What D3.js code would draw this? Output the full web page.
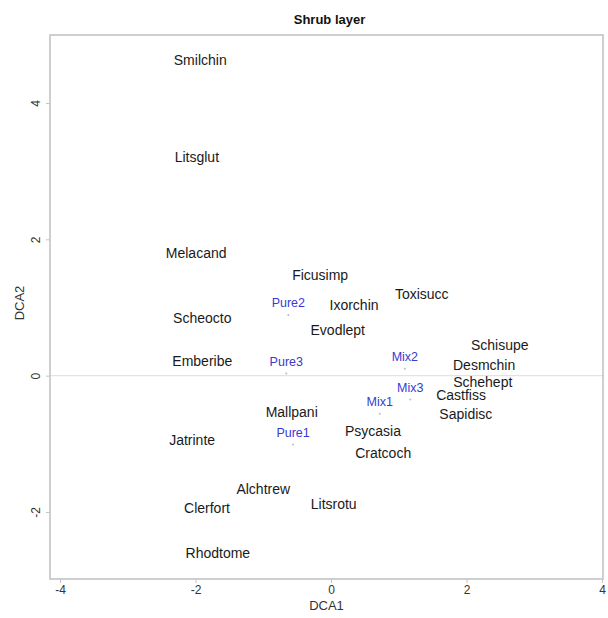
<!DOCTYPE html>
<html>
<head>
<meta charset="utf-8">
<script src="https://cdn.jsdelivr.net/npm/d3@7"></script>
<style>
  body { margin: 0; background: #fff; }
  text { font-family: "Liberation Sans", Arial, sans-serif; }
</style>
</head>
<body>
<script>
// species scores
const species = ["Smilchin","Litsglut","Melacand","Ficusimp","Toxisucc","Ixorchin","Scheocto","Evodlept",
  "Emberibe","Schisupe","Desmchin","Schehept","Castfiss","Sapidisc","Psycasia","Cratcoch",
  "Mallpani","Jatrinte","Alchtrew","Clerfort","Litsrotu","Rhodtome"];
const spX = [-1.93,-1.98,-1.99,-0.16,1.34,0.34,-1.90,0.10,-1.90,2.49,2.26,2.24,1.92,1.99,0.62,0.77,-0.58,-2.05,-1.00,-1.83,0.04,-1.67];
const spY = [4.63,3.21,1.80,1.48,1.20,1.03,0.85,0.67,0.22,0.45,0.16,-0.09,-0.29,-0.57,-0.82,-1.13,-0.54,-0.94,-1.67,-1.94,-1.88,-2.60];

// site scores
const sites = ["Pure1","Pure2","Pure3","Mix1","Mix2","Mix3"];
const siteX = [-0.56,-0.63,-0.66,0.72,1.09,1.17];
const siteY = [-1.01,0.89,0.03,-0.56,0.10,-0.35];

const xTicks = [-4,-2,0,2,4];
const yTicks = [-2,0,2,4];

const width = 608, height = 618;
const box = {left: 50, right: 603, top: 35, bottom: 579};

const svg = d3.select("body").append("svg")
  .attr("width", width)
  .attr("height", height);

const xScale = d3.scaleLinear().domain([-4, 4]).range([60, 602]);
const yScale = d3.scaleLinear().domain([-2, 4]).range([512, 103]);

// zero line
svg.append("line")
  .attr("x1", box.left).attr("x2", box.right)
  .attr("y1", yScale(0)).attr("y2", yScale(0))
  .attr("stroke", "#e2e2e2").attr("stroke-width", 1.2);

// frame
svg.append("rect")
  .attr("x", box.left).attr("y", box.top)
  .attr("width", box.right - box.left).attr("height", box.bottom - box.top)
  .attr("fill", "none").attr("stroke", "#c4c4c4").attr("stroke-width", 1.6);

// axes
const xAxis = d3.axisBottom(xScale).tickValues(xTicks).tickSize(4).tickPadding(2).tickFormat(d3.format("d"));
const yAxis = d3.axisLeft(yScale).tickValues(yTicks).tickSize(4).tickPadding(4).tickFormat(d3.format("d"));

const gx = svg.append("g").attr("transform", "translate(0," + box.bottom + ")").call(xAxis);
const gy = svg.append("g").attr("transform", "translate(" + box.left + ",0)").call(yAxis);
[gx, gy].forEach(g => {
  g.select(".domain").remove();
  g.selectAll(".tick line").attr("stroke", "#c4c4c4");
  g.selectAll(".tick text").attr("fill", "#333").style("font-size", "12px")
    .text(d => d < 0 ? "-" + Math.abs(d) : d);
});
// y tick labels are rotated, as in R's default
gy.selectAll(".tick text")
  .attr("transform", "rotate(-90)")
  .attr("x", 0).attr("y", -10).attr("dy", 0)
  .attr("text-anchor", "middle");

// axis titles
svg.append("text").attr("x", (box.left + box.right) / 2).attr("y", 610)
  .attr("text-anchor", "middle").attr("fill", "#333").style("font-size", "13px").text("DCA1");
svg.append("text").attr("transform", "translate(24,303) rotate(-90)")
  .attr("text-anchor", "middle").attr("fill", "#333").style("font-size", "13px").text("DCA2");

// title
svg.append("text").attr("x", (box.left + box.right) / 2 + 3).attr("y", 24)
  .attr("text-anchor", "middle").attr("fill", "#111").style("font-size", "13px")
  .style("font-weight", "bold").text("Shrub layer");

// site points and labels
const siteData = sites.map((s, i) => ({name: s, x: siteX[i], y: siteY[i]}));
svg.append("g").selectAll("circle").data(siteData).join("circle")
  .attr("cx", d => xScale(d.x)).attr("cy", d => yScale(d.y))
  .attr("r", 1).attr("fill", "#b8b8d8");
svg.append("g").selectAll("text").data(siteData).join("text")
  .attr("x", d => xScale(d.x)).attr("y", d => yScale(d.y) - 12)
  .attr("dy", "0.35em").attr("text-anchor", "middle")
  .attr("fill", "#3a3ad0").style("font-size", "12.5px")
  .text(d => d.name);

// species labels
const spData = species.map((s, i) => ({name: s, x: spX[i], y: spY[i]}));
svg.append("g").selectAll("text").data(spData).join("text")
  .attr("x", d => xScale(d.x)).attr("y", d => yScale(d.y))
  .attr("dy", "0.35em").attr("text-anchor", "middle")
  .attr("fill", "#1a1a1a").style("font-size", "14px")
  .text(d => d.name);
</script>
</body>
</html>
